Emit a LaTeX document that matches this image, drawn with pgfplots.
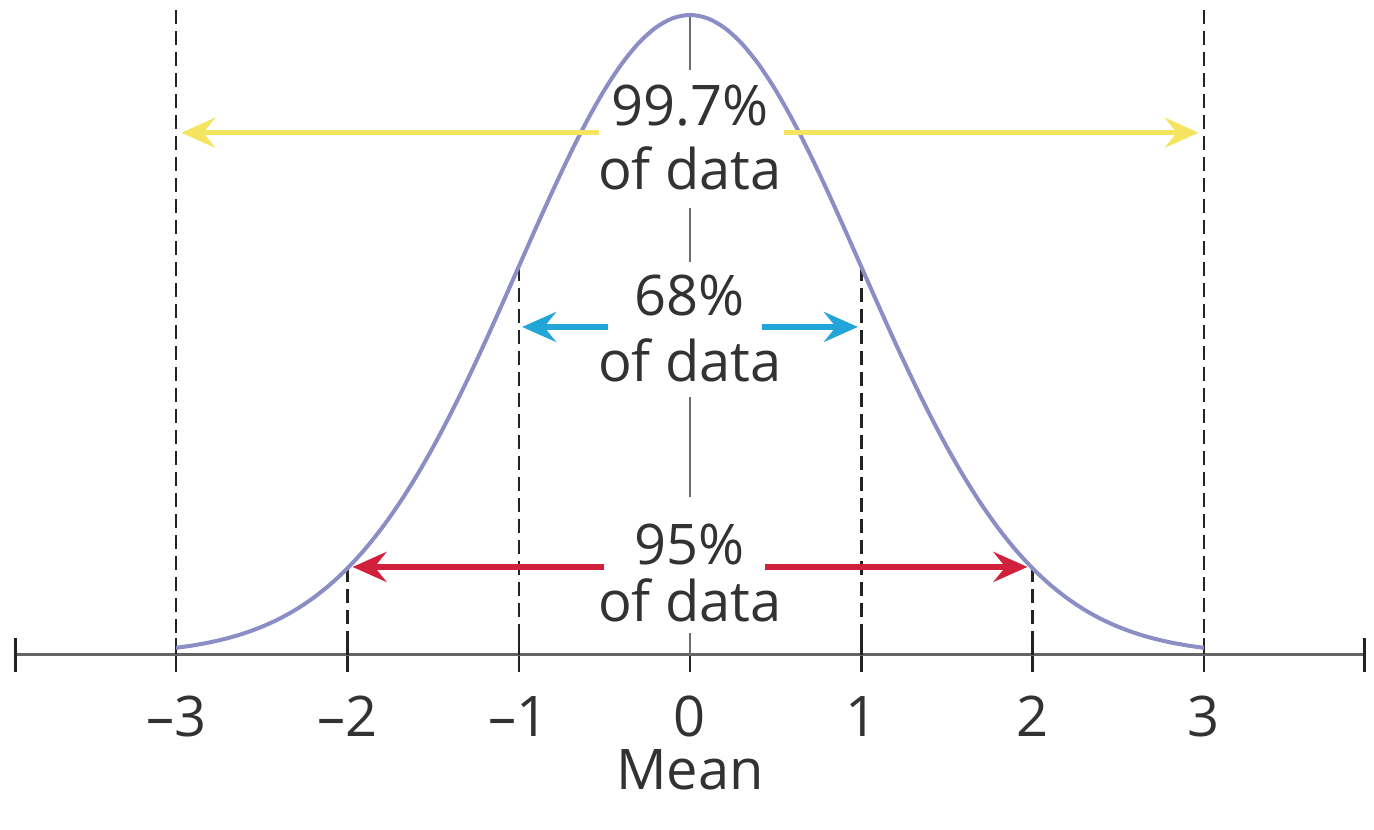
\documentclass[border=0pt]{standalone}
\usepackage{pgfplots}
\pgfplotsset{compat=1.18}
\usepackage{fontspec}
\setmainfont{Open Sans}
\usetikzlibrary{arrows.meta}
\definecolor{curvecol}{RGB}{138,142,196}
\definecolor{axisgray}{RGB}{100,100,100}
\definecolor{centergray}{RGB}{110,110,110}
\definecolor{dashcol}{RGB}{35,35,35}
\definecolor{textcol}{RGB}{50,50,50}
\definecolor{yellowarrow}{RGB}{245,228,95}
\definecolor{bluearrow}{RGB}{34,166,217}
\definecolor{redarrow}{RGB}{208,32,60}
\begin{document}
\begin{tikzpicture}
\begin{axis}[
  scale only axis, width=675pt, height=415pt,
  xmin=-3.94, xmax=3.94, ymin=-0.2734, ymax=1.0234,
  clip=false,
  axis x line*=middle, axis y line=none,
  axis line style={draw=axisgray, line width=1.5pt},
  xtick={-3,-2,-1,0,1,2,3},
  xticklabels={\textendash3,\textendash2,\textendash1,0,1,2,3},
  extra x ticks={-3.94,3.94}, extra x tick labels={},
  extra x tick style={tick style={draw=dashcol, line width=1.5pt}},
  tick align=center, major tick length=17pt,
  tick style={draw=dashcol, line width=1.2pt},
  xticklabel style={font=\fontsize{28}{32}\selectfont, text=textcol, anchor=base, yshift=-32.5pt},
  ytick=\empty,
]
% bounding box of the whole picture
\path (axis cs:-4.028,-0.2734) rectangle (axis cs:3.993,1.0234);
% dashed verticals
\addplot[dashcol, line width=1.2pt, dash pattern=on 7pt off 3.5pt] coordinates {(-3,1.008) (-3,0)};
\addplot[dashcol, line width=1.2pt, dash pattern=on 7pt off 3.5pt] coordinates {(3,1.008) (3,0)};
\addplot[dashcol, line width=1.2pt, dash pattern=on 7pt off 3.5pt] coordinates {(-2,0.13534) (-2,0)};
\addplot[dashcol, line width=1.2pt, dash pattern=on 7pt off 3.5pt] coordinates {(2,0.13534) (2,0)};
\addplot[dashcol, line width=1.2pt, dash pattern=on 7pt off 3.5pt] coordinates {(-1,0.60653) (-1,0)};
\addplot[dashcol, line width=1.2pt, dash pattern=on 7pt off 3.5pt] coordinates {(1,0.60653) (1,0)};
% centre line, in pieces between the labels
\addplot[centergray, line width=1.4pt] coordinates {(0,1.0) (0,0.914)};
\addplot[centergray, line width=1.4pt] coordinates {(0,0.698) (0,0.614)};
\addplot[centergray, line width=1.4pt] coordinates {(0,0.403) (0,0.247)};
\addplot[centergray, line width=1.4pt] coordinates {(0,0.034) (0,0)};
% curve
\addplot[curvecol, line width=2pt, smooth] coordinates {
(-3.0,0.01111) (-2.9,0.01492) (-2.8,0.01984) (-2.7,0.02612) (-2.6,0.03405)
(-2.5,0.04394) (-2.4,0.05613) (-2.3,0.07100) (-2.2,0.08892) (-2.1,0.11025)
(-2.0,0.13534) (-1.9,0.16447) (-1.8,0.19790) (-1.7,0.23575) (-1.6,0.27804)
(-1.5,0.32465) (-1.4,0.37531) (-1.3,0.42956) (-1.2,0.48675) (-1.1,0.54607)
(-1.0,0.60653) (-0.9,0.66698) (-0.8,0.72615) (-0.7,0.78270) (-0.6,0.83527)
(-0.5,0.88250) (-0.4,0.92312) (-0.3,0.95600) (-0.2,0.98020) (-0.1,0.99501)
(0.0,1.00000)
(0.1,0.99501) (0.2,0.98020) (0.3,0.95600) (0.4,0.92312) (0.5,0.88250)
(0.6,0.83527) (0.7,0.78270) (0.8,0.72615) (0.9,0.66698) (1.0,0.60653)
(1.1,0.54607) (1.2,0.48675) (1.3,0.42956) (1.4,0.37531) (1.5,0.32465)
(1.6,0.27804) (1.7,0.23575) (1.8,0.19790) (1.9,0.16447) (2.0,0.13534)
(2.1,0.11025) (2.2,0.08892) (2.3,0.07100) (2.4,0.05613) (2.5,0.04394)
(2.6,0.03405) (2.7,0.02612) (2.8,0.01984) (2.9,0.01492) (3.0,0.01111)
};
% arrows
\tikzset{myarrow/.style={line width=2.6pt, -{Stealth[length=17pt,width=15pt,inset=6pt]}}}
\draw[myarrow, yellowarrow] (axis cs:-0.53,0.816) -- (axis cs:-2.97,0.816);
\draw[myarrow, yellowarrow] (axis cs:0.55,0.816) -- (axis cs:2.97,0.816);
\draw[myarrow, bluearrow] (axis cs:-0.48,0.5125) -- (axis cs:-0.98,0.5125);
\draw[myarrow, bluearrow] (axis cs:0.42,0.5125) -- (axis cs:0.98,0.5125);
\draw[myarrow, redarrow] (axis cs:-0.50,0.1375) -- (axis cs:-1.97,0.1375);
\draw[myarrow, redarrow] (axis cs:0.44,0.1375) -- (axis cs:1.97,0.1375);
% texts
\tikzset{lbl/.style={font=\fontsize{28}{32}\selectfont, text=textcol, anchor=base, inner sep=0pt}}
\node[lbl] at (axis cs:0,0.828) {99.7\%};
\node[lbl] at (axis cs:0,0.727) {of data};
\node[lbl] at (axis cs:0,0.531) {68\%};
\node[lbl] at (axis cs:0,0.427) {of data};
\node[lbl] at (axis cs:0,0.141) {95\%};
\node[lbl] at (axis cs:0,0.052) {of data};
\node[lbl] at (axis cs:0,-0.211) {Mean};
\end{axis}
\end{tikzpicture}
\end{document}
